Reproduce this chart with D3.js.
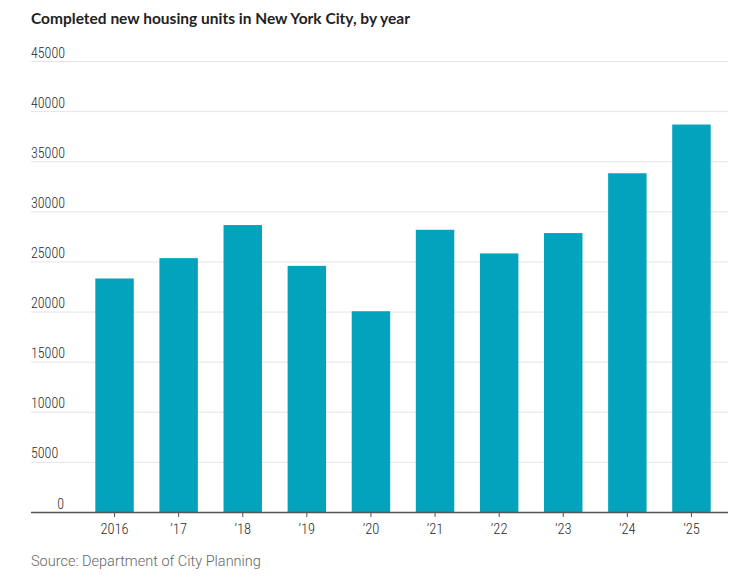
<!DOCTYPE html>
<html>
<head>
<meta charset="utf-8">
<script src="https://cdn.jsdelivr.net/npm/d3@7"></script>
<style>
  body { margin: 0; background: #fff; }
  text { font-family: "Roboto Condensed", "Roboto", sans-serif; }
</style>
</head>
<body>
<svg id="chart"></svg>
<script>
var svgWidth = 742;
var svgHeight = 582;

var gridLeft = 31;    // left edge of gridlines / labels
var gridRight = 728;  // right edge of gridlines
var plotTop = 61;     // y of the top gridline
var plotBottom = 512; // y of the zero line

var years = ["2016", "2017", "2018", "2019", "2020", "2021", "2022", "2023", "2024", "2025"];
var yearLabels = ["2016", "\u201917", "\u201918", "\u201919", "\u201920", "\u201921", "\u201922", "\u201923", "\u201924", "\u201925"];
var units = [23300, 25330, 28630, 24560, 20030, 28160, 25800, 27830, 33800, 38660];
var yTicks = [0, 5000, 10000, 15000, 20000, 25000, 30000, 35000, 40000, 45000];

var barColor = "#03a3be";

var svg = d3.select("#chart")
    .attr("width", svgWidth)
    .attr("height", svgHeight);

var xScale = d3.scaleBand()
    .domain(years)
    .range([82.5, 723.5])
    .paddingInner(0.4)
    .paddingOuter(0.2);

var yScale = d3.scaleLinear()
    .domain([0, 45000])
    .range([plotBottom, plotTop]);

// fits a text's font size so it spans the given width
function fitText(sel, targetWidth) {
    let w = sel.node().getComputedTextLength();
    let size = parseFloat(sel.style("font-size"));
    sel.style("font-size", (size * targetWidth / w) + "px");
}

// Title
var title = svg.append("text")
    .attr("x", gridLeft)
    .attr("y", 24)
    .style("font-family", "Lato, 'Open Sans', sans-serif")
    .style("font-weight", "bold")
    .style("font-size", "16px")
    .style("fill", "#222")
    .text("Completed new housing units in New York City, by year");
fitText(title, 379);

// Gridlines
svg.append("g")
    .attr("class", "grid")
    .selectAll("line")
    .data(yTicks.filter(d => d > 0))
    .enter().append("line")
    .attr("x1", gridLeft)
    .attr("x2", gridRight)
    .attr("y1", d => yScale(d) + 0.5)
    .attr("y2", d => yScale(d) + 0.5)
    .style("stroke", "#e4e4e4")
    .style("stroke-width", 1);

// Y labels, sitting above each gridline
svg.append("g")
    .attr("class", "y labels")
    .selectAll("text")
    .data(yTicks)
    .enter().append("text")
    .attr("x", d => d === 0 ? gridLeft + 33 : gridLeft)
    .attr("y", d => yScale(d) - 3.5)
    .style("text-anchor", d => d === 0 ? "end" : "start")
    .style("font-size", "14px")
    .style("font-weight", 300)
    .style("fill", "#2a2a2a")
    .text(d => d);

// Bars
svg.append("g")
    .attr("class", "bars")
    .selectAll("rect")
    .data(units)
    .enter().append("rect")
    .attr("x", (d, i) => xScale(years[i]))
    .attr("width", xScale.bandwidth())
    .attr("y", d => yScale(d))
    .attr("height", d => yScale(0) - yScale(d))
    .style("fill", barColor);

// X axis
var xAxis = d3.axisBottom(xScale)
    .tickSize(5)
    .tickSizeOuter(0)
    .tickPadding(7)
    .tickFormat((d, i) => yearLabels[i]);

var axisG = svg.append("g")
    .attr("class", "x axis")
    .attr("transform", "translate(0," + plotBottom + ")")
    .call(xAxis);

axisG.select(".domain").remove();
axisG.append("line")
    .attr("x1", gridLeft)
    .attr("x2", gridRight)
    .attr("y1", 0.5)
    .attr("y2", 0.5)
    .style("stroke", "#555")
    .style("stroke-width", 1.5);
axisG.selectAll(".tick line").style("stroke", "#555");
axisG.selectAll(".tick text")
    .style("font-family", "'Roboto Condensed', Roboto, sans-serif")
    .style("font-size", "14.5px")
    .style("font-weight", 300)
    .style("fill", "#2a2a2a");

// Source
var source = svg.append("text")
    .attr("x", gridLeft)
    .attr("y", 566)
    .style("font-family", "Roboto, sans-serif")
    .style("font-size", "14px")
    .style("font-weight", 300)
    .style("fill", "#666")
    .text("Source: Department of City Planning");
fitText(source, 230);
</script>
</body>
</html>
